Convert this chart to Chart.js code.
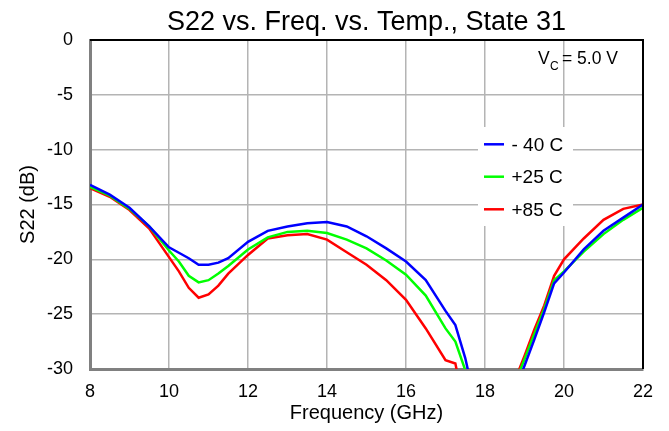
<!DOCTYPE html>
<html>
<head>
<meta charset="utf-8">
<script src="https://cdn.jsdelivr.net/npm/chart.js@4"></script>
<style>
  body { margin: 0; background: #fff; }
  canvas { display: block; }
</style>
</head>
<body>
<canvas id="chart" width="669" height="431"></canvas>
<script>
const FONT = "'Liberation Sans', Arial, sans-serif";

// frequency (GHz) and S22 (dB) per temperature
const freqGHz = [8, 8.5, 9, 9.5, 10, 10.25, 10.5, 10.75, 11, 11.25, 11.5, 12, 12.5, 13, 13.5, 14, 14.5, 15, 15.5, 16, 16.5, 17, 17.25, 17.5, 17.75, 18.75, 19, 19.25, 19.5, 19.75, 20, 20.5, 21, 21.5, 22];
const s22Minus40 = [-13.2, -14.1, -15.3, -17.0, -18.9, -19.4, -19.9, -20.5, -20.5, -20.3, -19.9, -18.4, -17.4, -17.0, -16.7, -16.6, -17.0, -17.9, -19.0, -20.2, -21.9, -24.7, -26.0, -29.0, -33.0, -32.1, -29.7, -27.3, -24.8, -22.2, -21.2, -19.1, -17.4, -16.2, -15.0];
const s22Plus25 = [-13.4, -14.2, -15.4, -17.0, -19.2, -20.2, -21.5, -22.1, -21.9, -21.3, -20.6, -19.1, -18.0, -17.5, -17.4, -17.6, -18.2, -19.0, -20.1, -21.4, -23.3, -26.3, -27.5, -30.1, -34.0, -31.4, -29.1, -26.8, -24.5, -21.9, -21.1, -19.3, -17.7, -16.4, -15.3];
const s22Plus85 = [-13.5, -14.3, -15.5, -17.2, -19.8, -21.1, -22.6, -23.5, -23.2, -22.4, -21.3, -19.6, -18.1, -17.8, -17.7, -18.2, -19.35, -20.5, -21.9, -23.7, -26.3, -29.2, -29.5, -34.0, -36.0, -31.1, -28.8, -26.4, -24.2, -21.5, -20.0, -18.1, -16.4, -15.4, -15.0];

const seriesLabels = ['- 40 C', '+25 C', '+85 C'];
const seriesColors = ['#0000ff', '#00ff00', '#ff0000'];
const xTicks = [8, 10, 12, 14, 16, 18, 20, 22];
const yTicks = [0, -5, -10, -15, -20, -25, -30];

const titleText = 'S22 vs. Freq. vs. Temp., State 31';

function points(values) {
  return freqGHz.map((f, i) => ({x: f, y: values[i]}));
}

const datasets = [s22Minus40, s22Plus25, s22Plus85].map((vals, i) => ({
  label: seriesLabels[i],
  data: points(vals),
  borderColor: seriesColors[i],
  borderWidth: 2.5,
  pointRadius: 0,
  tension: 0,
  fill: false
}));

// title, frame, legend box and Vc note
const decor = {
  id: 'decor',
  beforeDatasetsDraw(chart) {
    const ctx = chart.ctx;
    ctx.save();
    ctx.fillStyle = '#fff';
    ctx.fillRect(478, 127, 95, 99);
    ctx.restore();
  },
  afterDraw(chart) {
    const ctx = chart.ctx;
    const a = chart.chartArea;
    ctx.save();
    // top + right frame
    ctx.strokeStyle = '#000';
    ctx.lineWidth = 2;
    ctx.beginPath();
    ctx.moveTo(a.left, a.top);
    ctx.lineTo(a.right, a.top);
    ctx.lineTo(a.right, a.bottom);
    ctx.stroke();

    // title
    ctx.fillStyle = '#000';
    ctx.font = '27px ' + FONT;
    ctx.textAlign = 'center';
    ctx.textBaseline = 'alphabetic';
    ctx.fillText(titleText, (a.left + a.right) / 2, 29.5);

    // Vc = 5.0 V
    ctx.textAlign = 'left';
    ctx.font = '17.5px ' + FONT;
    ctx.fillText('V', 538, 64);
    ctx.font = '12px ' + FONT;
    ctx.fillText('C', 550, 69.5);
    ctx.font = '17.5px ' + FONT;
    ctx.fillText('= 5.0 V', 562, 64);

    // legend
    const rows = [144.3, 176.7, 209.3];
    ctx.font = '19px ' + FONT;
    ctx.textBaseline = 'middle';
    chart.data.datasets.forEach((ds, i) => {
      ctx.strokeStyle = ds.borderColor;
      ctx.lineWidth = 2.5;
      ctx.beginPath();
      ctx.moveTo(484, rows[i]);
      ctx.lineTo(504, rows[i]);
      ctx.stroke();
      ctx.fillStyle = '#000';
      ctx.fillText(ds.label, 511.5, rows[i] + 1);
    });
    ctx.restore();
  }
};

new Chart(document.getElementById('chart'), {
  type: 'line',
  data: {datasets},
  options: {
    responsive: false,
    animation: false,
    devicePixelRatio: 1,
    layout: {padding: {top: 40, right: 26, left: 0, bottom: 0}},
    plugins: {
      legend: {display: false},
      title: {display: false},
      tooltip: {enabled: false}
    },
    scales: {
      x: {
        type: 'linear',
        min: 8,
        max: 22,
        afterBuildTicks: s => { s.ticks = xTicks.map(v => ({value: v})); },
        afterFit: s => { s.height = 62; },
        grid: {color: '#b4b4b4', lineWidth: 1.5, drawTicks: false},
        border: {color: '#808080', width: 3},
        ticks: {color: '#000', font: {family: FONT, size: 18}, padding: 12, maxRotation: 0},
        title: {display: true, text: 'Frequency (GHz)', color: '#000', font: {family: FONT, size: 20}, padding: {top: 0, bottom: 6}}
      },
      y: {
        min: -30,
        max: 0,
        afterBuildTicks: s => { s.ticks = yTicks.map(v => ({value: v})); },
        afterFit: s => { s.width = 90; },
        grid: {color: '#b4b4b4', lineWidth: 1.5, drawTicks: false},
        border: {color: '#808080', width: 3},
        ticks: {color: '#000', font: {family: FONT, size: 18}, padding: 17},
        title: {display: true, text: 'S22 (dB)', color: '#000', font: {family: FONT, size: 20}, padding: {top: 16, bottom: 0}}
      }
    }
  },
  plugins: [decor]
});
</script>
</body>
</html>
